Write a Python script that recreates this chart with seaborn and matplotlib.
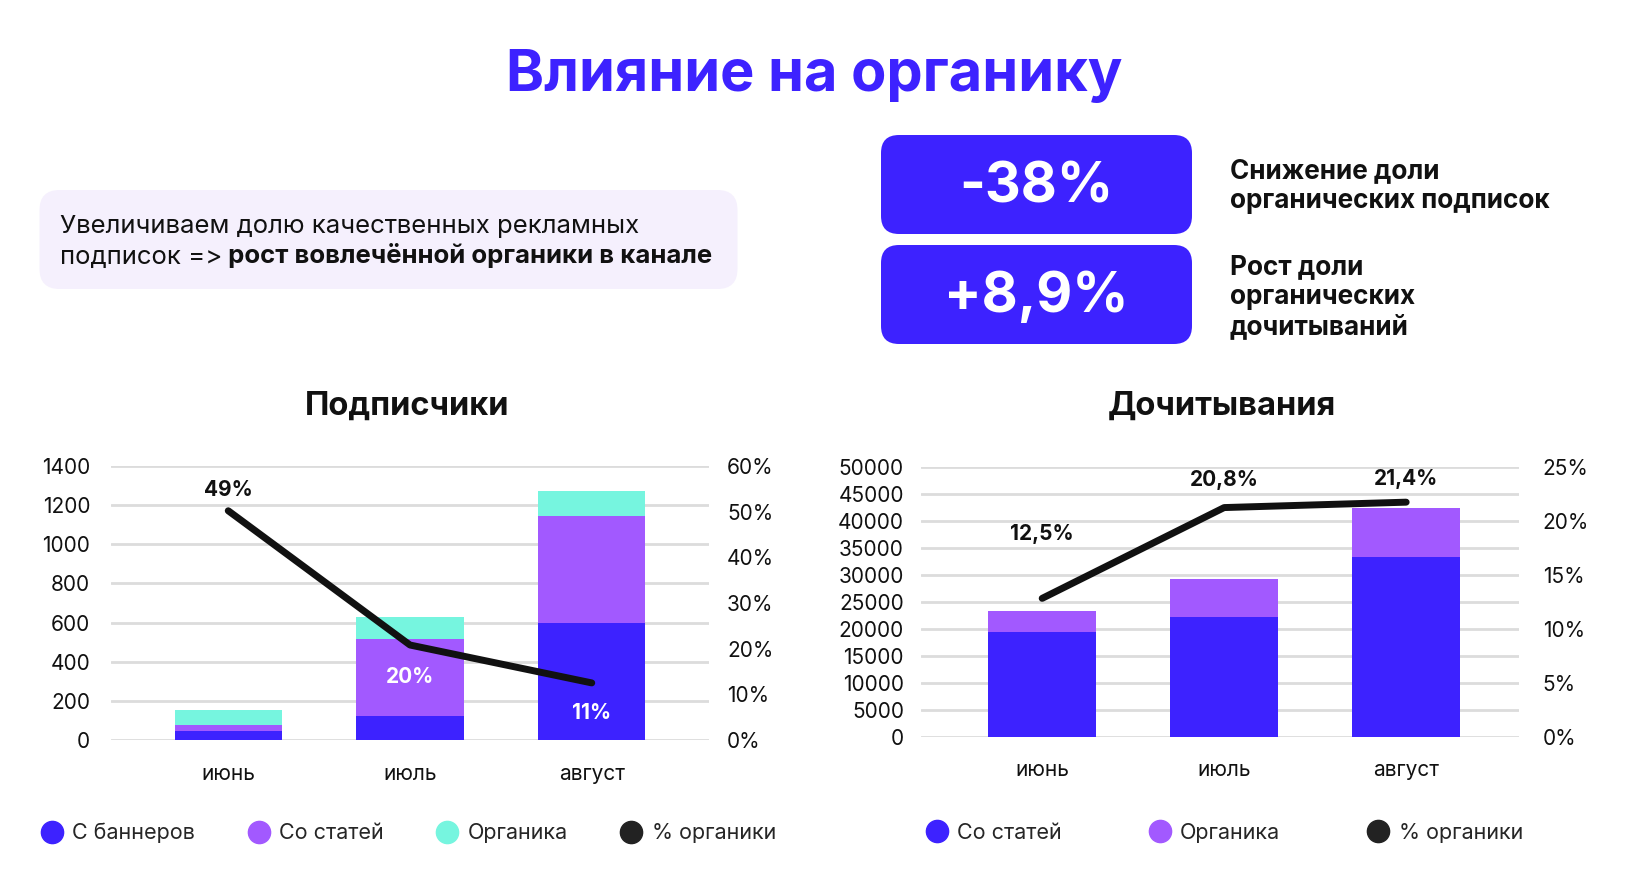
import matplotlib
matplotlib.use('Agg')
import matplotlib.pyplot as plt
import numpy as np
import seaborn as sns
from matplotlib.lines import Line2D
from matplotlib.patches import FancyBboxPatch
from matplotlib.ticker import FuncFormatter

# Данные / data
months = ['июнь', 'июль', 'август']

# Подписчики
subs_banners = [48, 122, 598]
subs_articles = [31, 392, 547]
subs_organic = [73, 115, 126]
subs_pct = [50.2, 20.8, 12.5]
subs_pct_labels = ['49%', '20%', '11%']

# Дочитывания
reads_articles = [19400, 22200, 33300]
reads_organic = [3800, 6900, 9000]
reads_pct = [12.8, 21.2, 21.7]
reads_pct_labels = ['12,5%', '20,8%', '21,4%']

BLUE = '#3D22FF'
PURPLE = '#A259FF'
TEAL = '#76F5DF'
BLACK = '#111111'
GRID = '#DCDCDC'

sns.set_style('white')
plt.rcParams['font.family'] = ['Inter', 'DejaVu Sans']

fig = plt.figure(figsize=(16.29, 8.8), dpi=100)

# заголовок
fig.text(0.5, 1 - 76 / 880, 'Влияние на органику', ha='center', va='center',
         fontsize=41.5, fontweight='bold', color=BLUE)

# плашка с пояснением
box = FancyBboxPatch((0.395, 5.91), 6.98, 0.99, boxstyle='round,pad=0,rounding_size=0.2',
                     transform=fig.dpi_scale_trans, facecolor='#F5F0FD', edgecolor='none',
                     zorder=-1)
fig.patches.append(box)

bg = fig.add_axes([0, 0, 1, 1])
bg.set_axis_off()
bg.set_xlim(0, 1)
bg.set_ylim(0, 1)
bg.text(60 / 1629, 1 - 227 / 880, 'Увеличиваем долю качественных рекламных',
        fontsize=18.5, va='center', ha='left', color='#111111')
t2 = bg.text(60 / 1629, 1 - 257 / 880, 'подписок =>', fontsize=18.5, va='center',
             ha='left', color='#111111')
bg.annotate(' рост вовлечённой органики в канале', xy=(1, 0), xycoords=t2,
            va='bottom', ha='left', fontsize=18.5, fontweight='bold', color='#111111')

# KPI плашки
for y0, txt in [(6.46, '-38%'), (5.36, '+8,9%')]:
    fig.patches.append(FancyBboxPatch((8.81, y0), 3.11, 0.99,
                                      boxstyle='round,pad=0,rounding_size=0.18',
                                      transform=fig.dpi_scale_trans,
                                      facecolor=BLUE, edgecolor='none', zorder=-1))
    bg.text(1036 / 1629, (y0 + 0.47) / 8.8, txt, ha='center', va='center',
            fontsize=40, fontweight='bold', color='white')

kpi_lines = [(171, 'Снижение доли'), (201, 'органических подписок'),
             (267, 'Рост доли'), (297, 'органических'), (327, 'дочитываний')]
for y, s in kpi_lines:
    bg.text(1230 / 1629, 1 - y / 880, s, ha='left', va='center', fontsize=18.8,
            fontweight='bold', color='#111111')

# заголовки графиков
bg.text(407 / 1629, 1 - 406 / 880, 'Подписчики', ha='center', va='center',
        fontsize=23.5, fontweight='bold', color='#111111')
bg.text(1222 / 1629, 1 - 406 / 880, 'Дочитывания', ha='center', va='center',
        fontsize=23.5, fontweight='bold', color='#111111')

pct_fmt = FuncFormatter(lambda v, p: f'{v:.0f}%')


def style_axes(ax, ax2, xlim, lpad, rpad):
    ax.set_xlim(*xlim)
    ax.set_xlabel('')
    ax.set_ylabel('')
    ax2.set_ylabel('')
    for a in (ax, ax2):
        for s in a.spines.values():
            s.set_visible(False)
    ax.yaxis.grid(True, color=GRID, linewidth=2)
    ax.xaxis.grid(False)
    ax.set_axisbelow(True)
    ax.tick_params(axis='y', length=0, labelsize=15, pad=lpad, labelcolor='#111111')
    ax.tick_params(axis='x', length=0, labelsize=15, pad=17, labelcolor='#111111')
    ax2.tick_params(axis='y', length=0, labelsize=15, pad=rpad, labelcolor='#111111')
    ax2.yaxis.set_major_formatter(pct_fmt)
    ax2.grid(False)


bar_kw = dict(saturation=1, width=0.59, linewidth=0, edgecolor='none')

# --- Подписчики ---
ax = fig.add_axes([111 / 1629, 1 - 740 / 880, 598 / 1629, 274 / 880])
tot1 = np.array(subs_banners) + np.array(subs_articles)
tot2 = tot1 + np.array(subs_organic)
sns.barplot(x=months, y=tot2, color=TEAL, ax=ax, **bar_kw)
sns.barplot(x=months, y=tot1, color=PURPLE, ax=ax, **bar_kw)
sns.barplot(x=months, y=subs_banners, color=BLUE, ax=ax, **bar_kw)
ax.set_ylim(0, 1400)
ax.set_yticks(range(0, 1401, 200))
ax2 = ax.twinx()
xs = np.arange(len(months))
sns.lineplot(x=xs, y=subs_pct, color=BLACK, linewidth=5, ax=ax2, solid_capstyle='round')
ax2.set_ylim(0, 60)
ax2.set_yticks(range(0, 61, 10))
style_axes(ax, ax2, (-0.645, 2.645), 15, 13)
for i, (lab, off, col) in enumerate(zip(subs_pct_labels, [15, -23, -22],
                                        [BLACK, 'white', 'white'])):
    ax2.annotate(lab, (xs[i], subs_pct[i]), xytext=(0, off), textcoords='offset points',
                 ha='center', va='center', fontsize=15, fontweight='bold', color=col)

# --- Дочитывания ---
bx = fig.add_axes([920.6 / 1629, 1 - 736.7 / 880, 598.4 / 1629, 270.2 / 880])
rtot = np.array(reads_articles) + np.array(reads_organic)
sns.barplot(x=months, y=rtot, color=PURPLE, ax=bx, **bar_kw)
sns.barplot(x=months, y=reads_articles, color=BLUE, ax=bx, **bar_kw)
bx.set_ylim(0, 50000)
bx.set_yticks(range(0, 50001, 5000))
bx2 = bx.twinx()
sns.lineplot(x=xs, y=reads_pct, color=BLACK, linewidth=5, ax=bx2, solid_capstyle='round')
bx2.set_ylim(0, 25)
bx2.set_yticks(range(0, 26, 5))
style_axes(bx, bx2, (-0.668, 2.62), 12, 17)
for i, (lab, off) in enumerate(zip(reads_pct_labels, [46, 20, 16.5])):
    bx2.annotate(lab, (xs[i], reads_pct[i]), xytext=(0, off), textcoords='offset points',
                 ha='center', va='center', fontsize=15, fontweight='bold', color=BLACK)


# легенды
def dot(c):
    return Line2D([], [], marker='o', linestyle='none', markersize=16,
                  markerfacecolor=c, markeredgecolor=c)


fig.legend([dot(BLUE), dot(PURPLE), dot(TEAL), dot('#222222')],
           ['С баннеров', 'Со статей', 'Органика', '% органики'],
           loc='center left', bbox_to_anchor=(41 / 1629, 1 - 833 / 880), ncol=4,
           frameon=False, fontsize=15.5, handlelength=1, handletextpad=0.45,
           columnspacing=2.45, borderpad=0, borderaxespad=0)
fig.legend([dot(BLUE), dot(PURPLE), dot('#222222')],
           ['Со статей', 'Органика', '% органики'],
           loc='center left', bbox_to_anchor=(926 / 1629, 1 - 833 / 880), ncol=3,
           frameon=False, fontsize=15.5, handlelength=1, handletextpad=0.45,
           columnspacing=4.05, borderpad=0, borderaxespad=0)

fig.savefig('out.png', dpi=100, facecolor='white')
